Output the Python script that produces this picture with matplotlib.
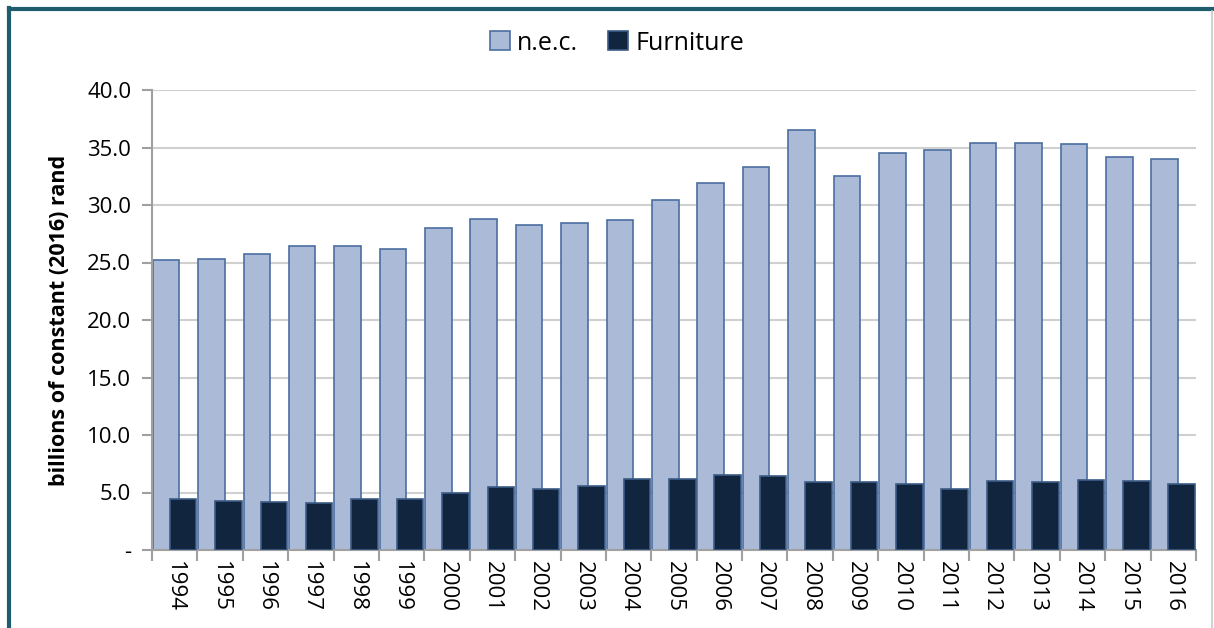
import numpy as np
import matplotlib.pyplot as plt
from matplotlib.lines import Line2D

years = [str(y) for y in range(1994, 2017)]
nec = [25.2, 25.3, 25.7, 26.4, 26.4, 26.2, 28.0, 28.8, 28.3, 28.4, 28.7, 30.4,
       31.9, 33.3, 36.5, 32.5, 34.5, 34.8, 35.4, 35.4, 35.3, 34.2, 34.0]
furniture = [4.4, 4.3, 4.2, 4.1, 4.4, 4.4, 5.0, 5.5, 5.3, 5.6, 6.2, 6.2,
             6.5, 6.4, 5.9, 5.9, 5.7, 5.3, 6.0, 5.9, 6.1, 6.0, 5.7]
yticks = [0, 5, 10, 15, 20, 25, 30, 35, 40]

plt.rcParams['font.family'] = ['Open Sans', 'DejaVu Sans']

W, H = 1214, 628
fig = plt.figure(figsize=(W / 100, H / 100), dpi=100)
ax = fig.add_axes([152 / W, 1 - 550 / H, 1044 / W, 460 / H])

x = np.arange(len(years))
bw = 0.585
ax.bar(x - 0.191, nec, width=bw, color='#AABAD7', edgecolor='#4A6EA0',
       linewidth=1.2, label='n.e.c.', zorder=2)
ax.bar(x + 0.184, furniture, width=bw, color='#12253F', edgecolor='#3C5C86',
       linewidth=1.2, label='Furniture', zorder=3)

ax.set_xlim(-0.5, len(years) - 0.5)
ax.set_ylim(0, 40)
ax.set_yticks(yticks)
ax.set_yticklabels(['-'] + ['%.1f' % v for v in yticks[1:]], fontsize=16)
ax.yaxis.grid(True, color='#D0D0D0', linewidth=1.5, zorder=0)
ax.set_axisbelow(True)

ax.set_xticks(x)
ax.set_xticklabels(years, rotation=-90, fontsize=16)
ax.set_xticks(np.arange(-0.5, len(years)), minor=True)
ax.tick_params(axis='x', which='major', length=0, pad=8)
ax.tick_params(axis='x', which='minor', length=8, color='#A0A0A0', width=1.5)
ax.tick_params(axis='y', length=7, color='#A0A0A0', width=1.5, pad=8)

for s in ['top', 'right']:
    ax.spines[s].set_visible(False)
for s in ['left', 'bottom']:
    ax.spines[s].set_color('#A0A0A0')
    ax.spines[s].set_linewidth(1.5)

ax.set_ylabel('billions of constant (2016) rand', fontsize=15.5, fontweight='bold',
              labelpad=12)

fig.legend(loc='center', bbox_to_anchor=(617 / W, 1 - 43 / H), ncol=2, frameon=False,
           fontsize=18, handlelength=0.8, handleheight=0.8, handletextpad=0.3,
           columnspacing=1.2, borderaxespad=0)

# frame around the chart
teal = '#1F5C6E'
fig.add_artist(Line2D([9 / W, 9 / W], [0, 1 - 8 / H], color=teal, linewidth=3,
                      transform=fig.transFigure))
fig.add_artist(Line2D([9 / W, 1], [1 - 9 / H, 1 - 9 / H], color=teal, linewidth=3,
                      transform=fig.transFigure))
fig.add_artist(Line2D([1212 / W, 1212 / W], [0, 1 - 11 / H], color='#C8C8C8',
                      linewidth=1.2, transform=fig.transFigure))

fig.savefig('out.png', dpi=100)
